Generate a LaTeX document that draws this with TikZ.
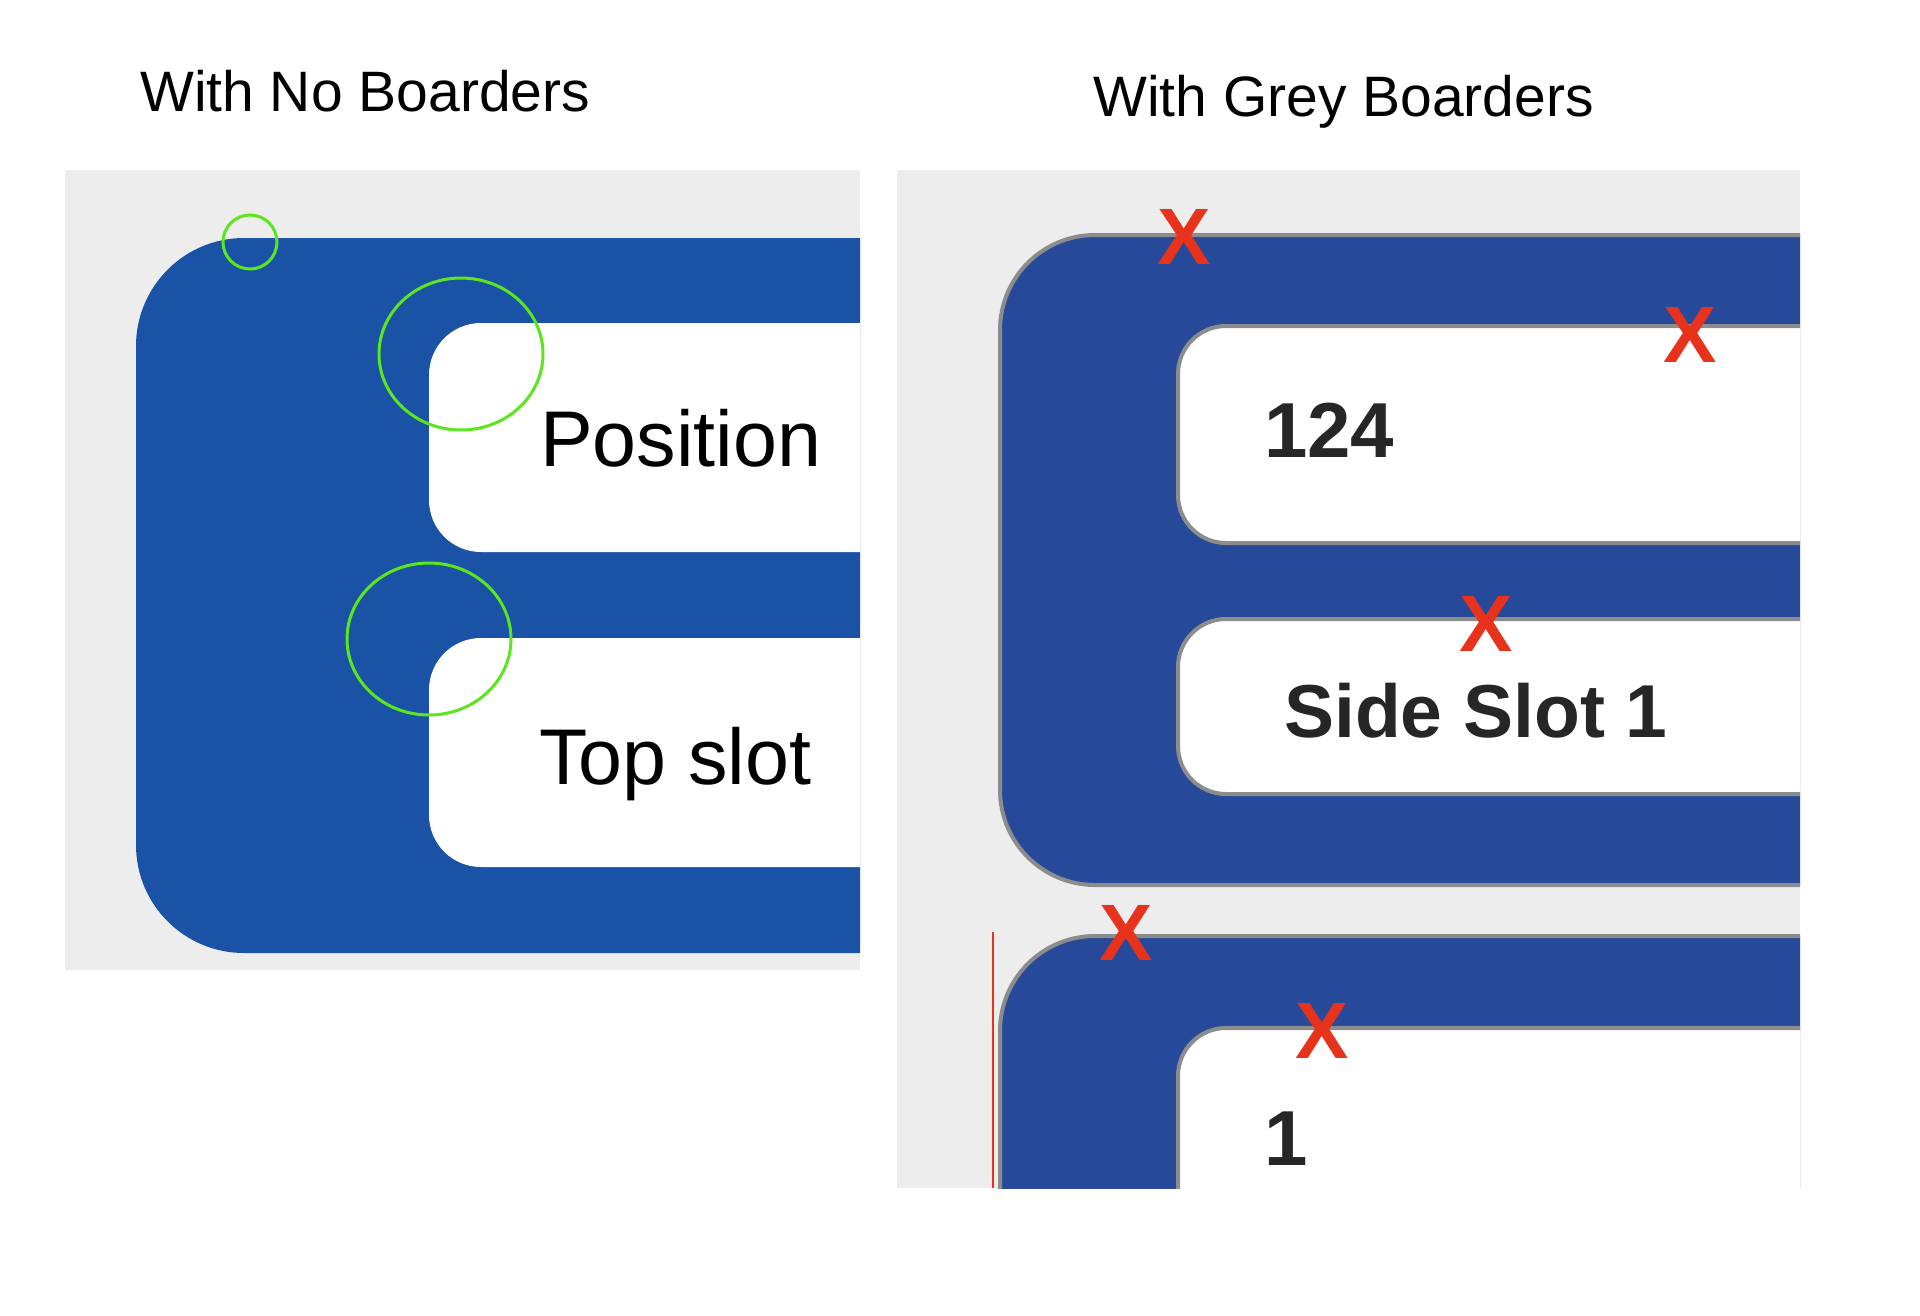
\documentclass[tikz,border=0pt]{standalone}
\usepackage{fontspec}
\setmainfont{Liberation Sans}
\usepackage{tikz}
\usetikzlibrary{positioning}

\definecolor{panelgrey}{HTML}{EDEDED}
\definecolor{flatblue}{HTML}{1A52A6}
\definecolor{darkblue}{HTML}{264A99}
\definecolor{edgegrey}{HTML}{8C8C8C}
\definecolor{markred}{HTML}{E8331C}
\definecolor{ringgreen}{HTML}{5CE61E}

\tikzset{
  title/.style={anchor=base west, inner sep=0pt, font=\fontsize{57}{60}\selectfont},
  slotlabel/.style={anchor=base west, inner sep=0pt, font=\fontsize{79}{80}\selectfont},
  valuelabel/.style={anchor=base west, inner sep=0pt, text=black!85, font=\bfseries\fontsize{78}{80}\selectfont},
  xmark/.style={inner sep=0pt, text=markred, font=\bfseries\fontsize{80}{80}\selectfont},
  ring/.style={draw=ringgreen, line width=3pt},
  bordered/.style={draw=edgegrey, line width=4pt},
}

\begin{document}
\begin{tikzpicture}[x=1pt,y=-1pt]
        \useasboundingbox (0,0) rectangle (1920,1315);
        % No borders
        \node[title] (lefttitle) at (140,111) {With No Boarders};
        \begin{scope}
            \clip (65,170) rectangle (860,970);
            \fill[panelgrey] (65,170) rectangle (860,970);
            \fill[flatblue, rounded corners=108pt] (136,238) rectangle (1000,953);
            \fill[white, rounded corners=52pt] (429,323) rectangle (1000,552);
            \fill[white, rounded corners=52pt] (429,638) rectangle (1000,867);
        \end{scope}
        \node[slotlabel] (position) at (540,466) {Position};
        \node[slotlabel] (topslot) at (539,784) {Top slot};
        \draw[ring] (250,242) circle (27pt);
        \draw[ring] (461,354) ellipse [x radius=82pt, y radius=76pt];
        \draw[ring] (429,639) ellipse [x radius=82pt, y radius=76pt];
        % Grey borders
        \node[title] (righttitle) at (1093,116) {With Grey Boarders};
        \begin{scope}
            \clip (897,170) rectangle (1800,1188);
            \fill[panelgrey] (897,170) rectangle (1800,1188);
            \draw[bordered, fill=darkblue, rounded corners=95pt] (1000,235) rectangle (1900,885);
            \draw[bordered, fill=white, rounded corners=48pt] (1178,326) rectangle (1900,543);
            \draw[bordered, fill=white, rounded corners=48pt] (1178,619) rectangle (1900,794);
            \draw[bordered, fill=darkblue, rounded corners=95pt] (1000,936) rectangle (1900,1500);
            \draw[bordered, fill=white, rounded corners=48pt] (1178,1028) rectangle (1900,1500);
        \end{scope}
        \node[valuelabel] (value) at (1264,457) {124};
        \node[valuelabel, font=\bfseries\fontsize{75}{80}\selectfont] (sideslot) at (1284,737) {Side Slot 1};
        \node[valuelabel] (count) at (1264,1165) {1};
        \coordinate (guidetop) at (993,932);
        \coordinate (guidebottom) at (993,1188);
        \draw[markred, line width=2pt] (guidetop) -- (guidebottom);
        \node[xmark] (xa) at (1184,237) {X};
        \node[xmark] (xb) at (1690,335) {X};
        \node[xmark] (xc) at (1486,624) {X};
        \node[xmark] (xd) at (1126,933) {X};
        \node[xmark] (xe) at (1322,1031) {X};
    \end{tikzpicture}
\end{document}
